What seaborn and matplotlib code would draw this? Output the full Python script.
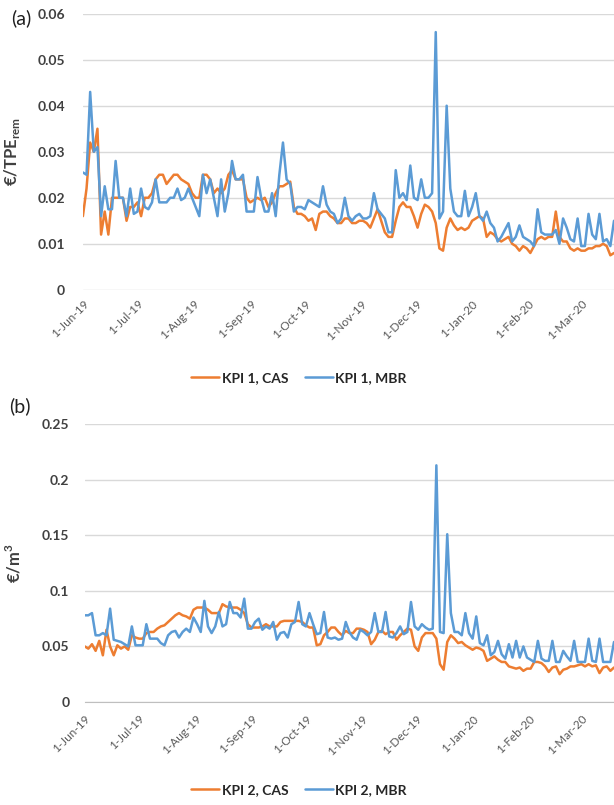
import numpy as np
import pandas as pd
import matplotlib
matplotlib.use('Agg')
import matplotlib.pyplot as plt
import seaborn as sns

# values read every 2nd day from 1-Jun-19, in thousandths of a euro
kpi1_cas = np.array([
    16, 22, 32, 30, 35, 12, 17, 12, 20, 20, 20, 20, 15, 18, 18, 19, 16, 20, 20, 21,
    24, 25, 25, 23, 24, 25, 25, 24, 23.5, 23, 21, 20, 20, 25, 25, 24, 21, 22, 21, 22,
    25, 26, 24, 24, 24, 20, 19, 19.5, 20, 19.5, 20, 18, 19, 21, 22.5, 22.5, 23, 23.5, 18, 16.5,
    16.5, 16, 15,
    15.5, 13, 16.5, 17, 17, 16, 15.5, 14.5, 14.5, 15.5, 15.5, 14.5, 14.5, 15, 15, 14.5, 13.5,
    15.5, 17.5, 15, 12.5, 11.5, 11.5, 15, 18, 19, 18, 18, 16, 13.5, 16.5, 18.5, 18, 17,
    14.5, 9, 8.5, 13.5, 15.5, 14, 13, 13.5, 13, 13.5, 15, 15.5, 16, 15.5, 11.5, 12.5, 12,
    11, 10.5, 11, 11.5, 10, 9.5, 8.5, 9.5, 9, 8, 9.5, 11, 11.5, 11, 11.5, 11.5, 17, 11.5,
    10.5, 10.5, 9, 8.5, 9, 8.5, 8.5, 9, 9, 9.5, 9.5, 10, 9.5, 7.5, 8]) / 1000

kpi1_mbr = np.array([
    25.5, 25, 43, 30, 31, 16, 22.5, 17.5, 17.5, 28, 20, 20, 16, 22, 16.5, 17, 22, 18, 17.5, 19,
    24, 19, 19, 19, 20, 20, 22, 19.5, 20, 22, 20, 18, 16, 25, 21, 24, 20, 16, 24, 17,
    21, 28, 24, 24, 25, 17, 17, 17, 24.5, 20, 17, 17, 21, 16, 25, 32, 24, 23, 17, 18,
    18, 17.5, 19.5,
    19, 18.5, 18, 22.5, 18.5, 17, 16.5, 14.5, 15.5, 20, 16, 15, 16, 16.5, 15.5, 15.5, 16,
    21, 17.5, 16.5, 15.5, 12.5, 12.5, 26, 20, 21, 19.5, 27, 20, 19.5, 24, 20, 20, 21,
    56, 15.5, 17, 40, 22, 17, 16, 16, 21.5, 16, 18, 21, 16, 15, 17, 14.5, 13.5, 10.5,
    11.5, 13, 14.5, 10.5, 11.5, 14, 11.5, 11, 10.5, 9.5, 17.5, 12.5, 12, 12, 12, 13, 10,
    15.5, 13.5, 11, 10.5, 15.5, 9.5, 9.5, 16.5, 12, 11, 16.5, 10.5, 11, 9.5, 15]) / 1000

kpi2_cas = np.array([
    50, 48, 52, 46, 55, 42, 65, 50, 42, 51, 48, 50, 47, 60, 58, 57, 57, 62, 63, 63,
    66, 68, 69, 72, 75, 78, 80, 78, 77, 75, 83, 85, 85, 85, 83, 80, 80, 80, 88, 86,
    85, 85, 85, 83, 80, 70, 67, 67, 67, 68, 70, 68, 68, 68, 72, 73, 73, 73, 73, 73,
    72, 69, 67,
    67, 51, 52, 60, 63, 67, 67, 63, 60, 64, 62, 62, 66, 66, 65, 63, 52, 56, 63, 64,
    61, 63, 63, 56, 60, 63, 66, 65, 50, 46, 58, 62, 62, 62, 57, 34, 29, 54, 60, 57,
    53, 54, 51, 49, 47, 49, 48, 46, 37, 39, 41, 38, 36, 36, 32, 31, 30, 31, 28, 30,
    30, 36, 36, 35, 32, 27, 31, 32, 25, 29, 30, 32, 32, 33, 34, 32, 34, 32, 33, 26,
    31, 32, 28, 31]) / 1000

kpi2_mbr = np.array([
    78, 78, 80, 60, 60, 62, 60, 84, 56, 55, 54, 52, 50, 68, 51, 51, 51, 70, 57, 57,
    57, 53, 51, 60, 63, 64, 58, 63, 66, 63, 76, 70, 63, 91, 68, 62, 68, 81, 68, 70,
    90, 80, 80, 76, 93, 66, 66, 72, 75, 65, 68, 66, 72, 56, 62, 63, 58, 70, 72, 90,
    70, 68, 80,
    70, 61, 62, 81, 58, 57, 58, 56, 57, 72, 63, 58, 56, 65, 63, 60, 63, 80, 63, 63,
    81, 59, 58, 62, 68, 61, 63, 90, 68, 65, 70, 67, 65, 66, 213, 63, 62, 151, 80, 63,
    63, 60, 80, 62, 57, 77, 53, 51, 60, 42, 45, 55, 43, 39, 52, 40, 55, 40, 50, 40,
    38, 36, 55, 39, 37, 37, 55, 36, 36, 46, 41, 37, 55, 36, 36, 36, 57, 37, 36, 57,
    36, 36, 36, 54]) / 1000

dates = pd.date_range('2019-06-01', periods=len(kpi1_cas), freq='2D')

tick_dates = pd.to_datetime(['2019-06-01', '2019-07-01', '2019-08-01', '2019-09-01', '2019-10-01',
                             '2019-11-01', '2019-12-01', '2020-01-01', '2020-02-01', '2020-03-01'])
tick_labels = ['1-Jun-19', '1-Jul-19', '1-Aug-19', '1-Sep-19', '1-Oct-19',
               '1-Nov-19', '1-Dec-19', '1-Jan-20', '1-Feb-20', '1-Mar-20']

df = pd.DataFrame({'date': dates,
                   'KPI 1, CAS': kpi1_cas, 'KPI 1, MBR': kpi1_mbr,
                   'KPI 2, CAS': kpi2_cas, 'KPI 2, MBR': kpi2_mbr})

sns.set_style('white')
plt.rcParams['font.family'] = ['Lato', 'DejaVu Sans']

orange = '#ED7D31'
blue = '#5B9BD5'
txt = '#404040'

fig = plt.figure(figsize=(6.14, 8.05), dpi=100)
ax1 = fig.add_axes([0.135, 0.640, 0.865, 0.343])
ax2 = fig.add_axes([0.138, 0.128, 0.862, 0.345])

panels = [
    (ax1, 'KPI 1, CAS', 'KPI 1, MBR', [0, 0.01, 0.02, 0.03, 0.04, 0.05, 0.06],
     ['0', '0.01', '0.02', '0.03', '0.04', '0.05', '0.06'], r'€/TPE$_{\mathregular{rem}}$', 0.5304),
    (ax2, 'KPI 2, CAS', 'KPI 2, MBR', [0, 0.05, 0.1, 0.15, 0.2, 0.25],
     ['0', '0.05', '0.1', '0.15', '0.2', '0.25'], r'€/m$^{\mathregular{3}}$', 0.0186),
]

for ax, cas, mbr, yt, ytl, ylab, leg_y in panels:
    sns.lineplot(data=df, x='date', y=cas, color=orange, lw=1.8, label=cas, ax=ax)
    sns.lineplot(data=df, x='date', y=mbr, color=blue, lw=1.8, label=mbr, ax=ax)
    ax.set_xlim(pd.Timestamp('2019-06-01'), pd.Timestamp('2020-03-19'))
    ax.set_ylim(0, yt[-1])
    ax.set_yticks(yt)
    ax.set_yticklabels(ytl, fontsize=10, fontweight='bold', color=txt)
    ax.set_xticks(tick_dates)
    ax.set_xticklabels(tick_labels, rotation=45, ha='right', rotation_mode='anchor',
                       fontsize=8.5, color='#595959')
    ax.grid(axis='y', color='#D9D9D9', lw=1)
    ax.set_axisbelow(True)
    for s in ax.spines.values():
        s.set_visible(False)
    ax.set_xlabel('')
    ax.set_ylabel(ylab, fontsize=12, fontweight='bold', color=txt)
    ax.yaxis.set_label_coords(-0.115, 0.5)
    handles, labels = ax.get_legend_handles_labels()
    ax.get_legend().remove()
    fig.legend(handles, labels, loc='center', bbox_to_anchor=(0.487, leg_y), ncol=2,
               frameon=False, handlelength=2.0, columnspacing=1.2,
               handletextpad=0.2, prop={'weight': 'bold', 'size': 10})

ax1.tick_params(axis='y', length=0, pad=13)
ax1.tick_params(axis='x', length=0, pad=6)
ax2.tick_params(axis='y', length=0, pad=11)
ax2.tick_params(axis='x', length=4, color='#BFBFBF', pad=4)
ax2.spines['bottom'].set_visible(True)
ax2.spines['bottom'].set_color('#BFBFBF')

fig.text(0.018, 0.9776, '(a)', fontsize=14, va='center', color='#202020')
fig.text(0.015, 0.4957, '(b)', fontsize=14, va='center', color='#202020')

fig.savefig('out.png', dpi=100)
